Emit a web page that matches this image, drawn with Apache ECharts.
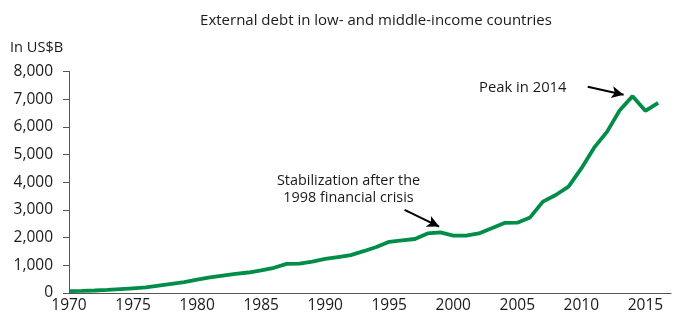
<!DOCTYPE html>
<html><head><meta charset="utf-8">
<script src="https://cdn.jsdelivr.net/npm/echarts@6/dist/echarts.min.js"></script>
<style>html,body{margin:0;padding:0;background:#fff}#c{width:674px;height:316px}</style>
</head><body><div id="c"></div>
<script>
const years = [1970,1971,1972,1973,1974,1975,1976,1977,1978,1979,1980,1981,1982,1983,1984,1985,1986,1987,1988,1989,1990,1991,1992,1993,1994,1995,1996,1997,1998,1999,2000,2001,2002,2003,2004,2005,2006,2007,2008,2009,2010,2011,2012,2013,2014,2015,2016];
const debt = [70,75,90,110,140,170,200,270,330,390,480,560,630,690,740,820,910,1050,1060,1130,1230,1300,1370,1510,1660,1850,1900,1950,2150,2190,2070,2070,2150,2335,2530,2540,2730,3300,3540,3840,4500,5250,5820,6600,7110,6580,6870];
const yTicks = [0,1000,2000,3000,4000,5000,6000,7000,8000];
const xTicks = [1970,1975,1980,1985,1990,1995,2000,2005,2010,2015];
const titleText = 'External debt in low- and middle-income countries';
const unitText = 'In US$B';
const note1 = ['Stabilization after the','1998 financial crisis'];
const note2 = 'Peak in 2014';
const arrow1 = [[1996.2,3000],[1998.9,2400]];
const arrow2 = [[2010.5,7450],[2013.3,7160]];

const FONT = '"Open Sans", "Noto Sans", sans-serif';
const chart = echarts.init(document.getElementById('c'));
const arrowLine = (a) => ({symbol:['none','arrow'], symbolSize:[9,12], lineStyle:{color:'#000',width:2,type:'solid'},
  data:[[{coord:a[0]},{coord:a[1]}]], label:{show:false}, silent:true, animation:false});
chart.setOption({
  animation:false,
  textStyle:{fontFamily:FONT},
  title:{text:titleText,left:371,top:8,textAlign:'center',textStyle:{fontFamily:FONT,fontSize:15,fontWeight:'normal',color:'#1a1a1a'}},
  grid:{left:69,right:0,top:71.5,bottom:23},
  xAxis:{type:'value',min:1970,max:2017,interval:5,
    axisLine:{lineStyle:{color:'#555',width:1}},axisTick:{show:false},splitLine:{show:false},
    axisLabel:{fontSize:15.5,color:'#1a1a1a',margin:5,fontFamily:FONT,
      formatter:v=>xTicks.includes(v)?String(v):''}},
  yAxis:{type:'value',min:0,max:8000,interval:1000,
    name:unitText,nameLocation:'end',nameGap:0,
    nameTextStyle:{align:'left',verticalAlign:'bottom',padding:[0,0,16,-59],fontSize:14.6,color:'#1a1a1a',fontFamily:FONT},
    axisLine:{show:true,lineStyle:{color:'#555',width:1}},
    axisTick:{show:true,length:6,lineStyle:{color:'#555'}},
    splitLine:{show:false},
    axisLabel:{fontSize:15.5,color:'#1a1a1a',margin:16,fontFamily:FONT,
      formatter:v=>yTicks.includes(v)?v.toLocaleString('en-US'):''}},
  series:[
    {type:'line',data:years.map((y,i)=>[y,debt[i]]),showSymbol:false,
      lineStyle:{color:'#008D48',width:3.8},itemStyle:{color:'#008D48'},
      markLine:arrowLine(arrow1)},
    {type:'line',data:[],markLine:arrowLine(arrow2)}
  ],
  graphic:[
    {type:'text',style:{text:note1.join('\n'),x:348.5,y:172.5,align:'center',lineHeight:17,fontSize:14.4,fontFamily:FONT,fill:'#1a1a1a'}},
    {type:'text',style:{text:note2,x:479,y:80,fontSize:14.8,fontFamily:FONT,fill:'#1a1a1a'}}
  ]
});
</script></body></html>
